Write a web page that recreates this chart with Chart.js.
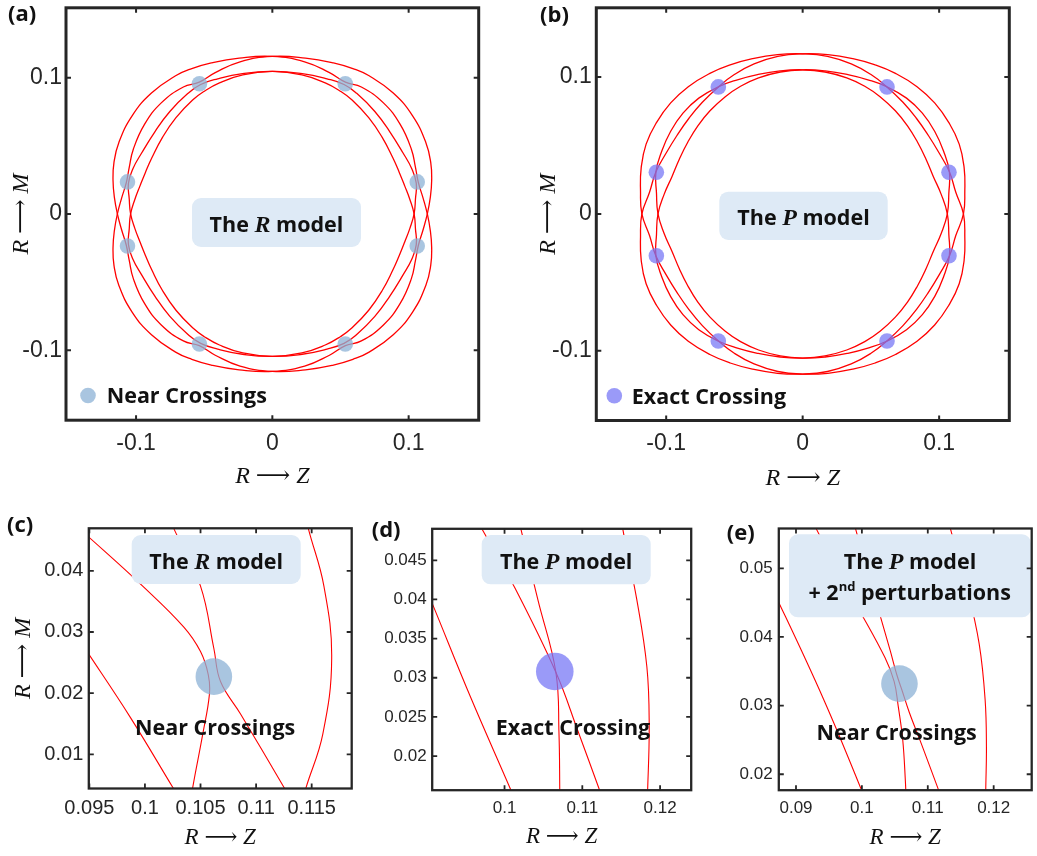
<!DOCTYPE html>
<html>
<head>
<meta charset="utf-8">
<script src="https://cdn.jsdelivr.net/npm/chart.js@4.4.1/dist/chart.umd.min.js"></script>
<style>
  html, body { margin: 0; padding: 0; background: #fff; }
  body { position: relative; width: 1037px; height: 856px; overflow: hidden; }
  canvas { position: absolute; }
</style>
</head>
<body>
<script>
// ---------------------------------------------------------------------------
// Traced branches, first quadrant only (angle 0° -> 90°), as [Z, M] pairs.
// The full closed orbits follow from the mirror symmetry Z -> -Z, M -> -M.
// ---------------------------------------------------------------------------

// R model (panel a)
const rOuter    = [[0.1137,0],[0.1159,0.0122],[0.1169,0.0248],[0.1162,0.0378],[0.1126,0.0525],[0.1029,0.0720],[0.0887,0.0887],[0.0710,0.1014],[0.0591,0.1067],[0.0448,0.1109],[0.0243,0.1144],[0,0.1156]];
const rOuterMid = [[0.1137,0],[0.1106,0.0116],[0.1072,0.0228],[0.1050,0.0341],[0.1020,0.0475],[0.0938,0.0657],[0.0815,0.0815],[0.0653,0.0932],[0.0536,0.0967],[0.0419,0.1037],[0.0237,0.1117],[0,0.1156]];
const rInnerMid = [[0.1040,0],[0.1050,0.0110],[0.1056,0.0225],[0.1023,0.0332],[0.0959,0.0447],[0.0862,0.0603],[0.0752,0.0752],[0.0619,0.0885],[0.0526,0.0950],[0.0401,0.0992],[0.0219,0.1030],[0,0.1046]];
const rInner    = [[0.1040,0],[0.1009,0.0106],[0.0971,0.0206],[0.0932,0.0303],[0.0884,0.0412],[0.0805,0.0564],[0.0707,0.0707],[0.0585,0.0836],[0.0499,0.0901],[0.0388,0.0962],[0.0217,0.1020],[0,0.1046]];

// P model (panel b)
const pOuter    = [[0.1178,0],[0.1188,0.0166],[0.1183,0.0338],[0.1147,0.0510],[0.1070,0.0669],[0.0967,0.0811],[0.0838,0.0930],[0.0680,0.1027],[0.0531,0.1089],[0.0368,0.1134],[0.0184,0.1164],[0,0.1170]];
const pOuterMid = [[0.1178,0],[0.1122,0.0158],[0.1075,0.0308],[0.1000,0.0445],[0.0920,0.0575],[0.0833,0.0699],[0.0735,0.0816],[0.0615,0.0930],[0.0498,0.1020],[0.0356,0.1096],[0.0182,0.1151],[0,0.1170]];
const pInnerMid = [[0.1060,0],[0.1071,0.0151],[0.1075,0.0308],[0.1032,0.0460],[0.0967,0.0604],[0.0877,0.0736],[0.0761,0.0846],[0.0615,0.0930],[0.0478,0.0980],[0.0331,0.1018],[0.0165,0.1045],[0,0.1053]];
const pInner    = [[0.1060,0],[0.1015,0.0143],[0.0957,0.0274],[0.0903,0.0402],[0.0841,0.0526],[0.0768,0.0644],[0.0679,0.0754],[0.0567,0.0857],[0.0455,0.0933],[0.0323,0.0994],[0.0164,0.1037],[0,0.1053]];

// Close-up of the R model near (0.106, 0.023) (panel c)
const zoomRInner    = [[0.0925,0.0330],[0.0949,0.0265],[0.0987,0.0160],[0.1025,0.0046],[0.1032,0.0025]];
const zoomRInnerMid = [[0.0935,0.0478],[0.0949,0.0456],[0.0998,0.0375],[0.1035,0.0308],[0.1050,0.0268],[0.1057,0.0230],[0.1058,0.0198],[0.1052,0.0133],[0.1043,0.0046],[0.1041,0.0020]];
const zoomROuterMid = [[0.1020,0.0495],[0.1026,0.0469],[0.1050,0.0375],[0.1062,0.0273],[0.1068,0.0219],[0.1086,0.0166],[0.1125,0.0046],[0.1133,0.0020]];
const zoomROuter    = [[0.1144,0.0495],[0.1147,0.0469],[0.1161,0.0375],[0.1168,0.0257],[0.1160,0.0133],[0.1145,0.0046],[0.1141,0.0020]];

// Close-up of the P model near (0.106, 0.031) (panel d)
const zoomPInner = [[0.0890,0.0435],[0.0907,0.0395],[0.0956,0.0276],[0.1008,0.0157],[0.1015,0.0140]];
const zoomPDiag  = [[0.0960,0.0510],[0.0971,0.0490],[0.1010,0.0421],[0.1066,0.0307],[0.1094,0.0233],[0.1122,0.0157],[0.1128,0.0140]];
const zoomPVert  = [[0.1017,0.0510],[0.1021,0.0490],[0.1043,0.0399],[0.1066,0.0307],[0.1070,0.0229],[0.1071,0.0157],[0.1071,0.0140]];
const zoomPOuter = [[0.1150,0.0510],[0.1152,0.0490],[0.1170,0.0400],[0.1183,0.0314],[0.1186,0.0240],[0.1184,0.0157],[0.1183,0.0140]];

// Close-up of the P model with second-order perturbations (panel e)
const zoomP2Inner = [[0.0860,0.0475],[0.0874,0.0450],[0.0942,0.0309],[0.0999,0.0178],[0.1003,0.0165]];
const zoomP2A     = [[0.0925,0.0575],[0.0930,0.0559],[0.0990,0.0450],[0.1035,0.0370],[0.1049,0.0335],[0.1055,0.0300],[0.1062,0.0250],[0.1066,0.0190],[0.1067,0.0165]];
const zoomP2B     = [[0.0987,0.0575],[0.0990,0.0559],[0.1022,0.0450],[0.1043,0.0380],[0.1053,0.0345],[0.1061,0.0322],[0.1072,0.0290],[0.1090,0.0245],[0.1116,0.0178],[0.1121,0.0165]];
const zoomP2Outer = [[0.1130,0.0580],[0.1134,0.0559],[0.1160,0.0470],[0.1178,0.0390],[0.1187,0.0309],[0.1189,0.0240],[0.1188,0.0178],[0.1188,0.0165]];

// Crossing markers
const nearCrossR  = [[0.0535,0.0955],[-0.0535,0.0955],[0.1063,0.0235],[-0.1063,0.0235],[0.1063,-0.0235],[-0.1063,-0.0235],[0.0535,-0.0955],[-0.0535,-0.0955]];
const exactCrossP = [[0.0618,0.0928],[-0.0618,0.0928],[0.1072,0.0305],[-0.1072,0.0305],[0.1072,-0.0305],[-0.1072,-0.0305],[0.0618,-0.0928],[-0.0618,-0.0928]];
const zoomRCross  = [[0.1062,0.0227]];
const zoomPCross  = [[0.10646,0.0308]];
const zoomP2Cross = [[0.1057,0.0332]];

// Tick values
const ticksFull = [-0.1, 0, 0.1];
const ticksCX = [0.095, 0.1, 0.105, 0.11, 0.115];
const ticksCY = [0.01, 0.02, 0.03, 0.04];
const ticksDX = [0.1, 0.11, 0.12];
const ticksDY = [0.02, 0.025, 0.03, 0.035, 0.04, 0.045];
const ticksEX = [0.09, 0.1, 0.11, 0.12];
const ticksEY = [0.02, 0.03, 0.04, 0.05];

// Axis titles
const titleZ = 'R \u27F6 Z';
const titleM = 'R \u27F6 M';

// ---------------------------------------------------------------------------
const RED = '#ff0000';
const DOT_R = 'rgba(140,178,214,0.75)';
const DOT_P = 'rgba(120,120,246,0.75)';
const INK = '#262626';
const TICK_FONT = '"Liberation Sans", Arial, sans-serif';
const MATH_FONT = '"Liberation Serif", "DejaVu Serif", serif';
const LABEL_FONT = '"Open Sans", Lato, sans-serif';
const B22 = `bold 21.5px ${LABEL_FONT}`;
const MATHB = `italic bold 24px ${MATH_FONT}`;

// One closed orbit: branch `a` in quadrant I, continued through the axis
// crossings by the mirrored copy of branch `b`, then the point-reflected `a`, ...
function orbit(a, b) {
  const pts = [];
  a.forEach(([z, m]) => pts.push([z, m]));
  b.slice().reverse().slice(1).forEach(([z, m]) => pts.push([-z, m]));
  a.slice(1).forEach(([z, m]) => pts.push([-z, -m]));
  b.slice().reverse().slice(1).forEach(([z, m]) => pts.push([z, -m]));
  // wrap one point on each end so the spline closes smoothly
  const ext = [pts[pts.length - 2], ...pts, pts[1]];
  return ext.map(([x, y]) => ({x, y}));
}
const xy = arr => arr.map(([x, y]) => ({x, y}));

function loopSet(data, width) {
  const n = data.length;
  return {
    data, showLine: true, pointRadius: 0, borderColor: RED, borderWidth: width,
    tension: 0.45, fill: false, order: 1,
    segment: { borderColor: c => (c.p0DataIndex === 0 || c.p1DataIndex === n - 1) ? 'rgba(0,0,0,0)' : undefined }
  };
}
function pathSet(data, width) {
  return { data: xy(data), showLine: true, pointRadius: 0, borderColor: RED, borderWidth: width, tension: 0.4, fill: false, order: 1 };
}
function dotSet(data, r, color) {
  return { data: xy(data), showLine: false, pointRadius: r, pointBackgroundColor: color, pointBorderWidth: 0, order: 0 };
}

// Frame with inward ticks, annotation boxes and labels
const decor = {
  id: 'decor',
  afterDraw(chart, _args, o) {
    const {ctx, chartArea: a, scales: {x, y}} = chart;
    ctx.save();
    ctx.translate(-o.origin[0], -o.origin[1]);
    for (const it of o.items) {
      if (it.box) {
        const [x0, y0, x1, y1] = it.box;
        ctx.fillStyle = '#deeaf6';
        ctx.beginPath(); ctx.roundRect(x0, y0, x1 - x0, y1 - y0, 9); ctx.fill();
      } else if (it.dot) {
        const [cx, cy, r, col] = it.dot;
        ctx.fillStyle = col;
        ctx.beginPath(); ctx.arc(cx, cy, r, 0, Math.PI * 2); ctx.fill();
      } else if (it.text) {
        ctx.fillStyle = '#111';
        ctx.textBaseline = 'alphabetic';
        ctx.textAlign = 'left';
        let w = 0;
        for (const p of it.text) { ctx.font = p[1]; w += ctx.measureText(p[0]).width; }
        let cx = it.align === 'center' ? it.x - w / 2 : it.x;
        for (const p of it.text) {
          ctx.font = p[1];
          ctx.fillText(p[0], cx, it.y - (p[2] || 0));
          cx += ctx.measureText(p[0]).width;
        }
      }
    }
    ctx.restore();

    ctx.save();
    ctx.strokeStyle = INK;
    ctx.lineWidth = o.frame;
    ctx.strokeRect(a.left, a.top, a.right - a.left, a.bottom - a.top);
    ctx.lineWidth = o.tickWidth;
    ctx.beginPath();
    const L = o.tickLen;
    x.ticks.forEach(t => {
      const px = x.getPixelForValue(t.value);
      ctx.moveTo(px, a.bottom); ctx.lineTo(px, a.bottom - L);
      ctx.moveTo(px, a.top); ctx.lineTo(px, a.top + L);
    });
    y.ticks.forEach(t => {
      const py = y.getPixelForValue(t.value);
      ctx.moveTo(a.left, py); ctx.lineTo(a.left + L, py);
      ctx.moveTo(a.right, py); ctx.lineTo(a.right - L, py);
    });
    ctx.stroke();
    ctx.restore();
  }
};

function panel(p) {
  const cv = document.createElement('canvas');
  cv.width = p.w; cv.height = p.h;
  cv.style.left = p.left + 'px'; cv.style.top = p.top + 'px';
  cv.style.width = p.w + 'px'; cv.style.height = p.h + 'px';
  document.body.appendChild(cv);
  const yW = p.area[0] - p.left, padTop = p.area[1] - p.top;
  const padRight = p.left + p.w - p.area[2], xH = p.top + p.h - p.area[3];
  const titleFont = size => ({family: MATH_FONT, size, style: 'italic', weight: 'normal'});
  new Chart(cv, {
    type: 'scatter',
    data: { datasets: p.datasets },
    options: {
      responsive: false, animation: false, devicePixelRatio: 1, events: [],
      layout: { padding: { top: padTop, right: padRight, bottom: 0, left: 0 } },
      elements: { line: { capBezierPoints: false } },
      plugins: { legend: { display: false }, tooltip: { enabled: false }, decor: p.decor },
      scales: {
        x: {
          type: 'linear', position: 'bottom', min: p.xr[0], max: p.xr[1],
          afterBuildTicks: s => { s.ticks = p.xt.map(v => ({value: v})); },
          afterFit: s => { s.height = xH; s.paddingLeft = 0; s.paddingRight = 0; },
          grid: { display: false, drawTicks: false }, border: { display: false },
          ticks: { padding: p.xPad, color: INK, font: {family: TICK_FONT, size: p.tf}, maxRotation: 0, autoSkip: false, callback: v => String(v) },
          title: { display: true, text: titleZ, color: '#111', font: titleFont(p.xtSize), padding: {top: 0, bottom: p.xtPad} }
        },
        y: {
          type: 'linear', position: 'left', min: p.yr[0], max: p.yr[1],
          afterBuildTicks: s => { s.ticks = p.yt.map(v => ({value: v})); },
          afterFit: s => { s.width = yW; s.paddingTop = 0; s.paddingBottom = 0; },
          grid: { display: false, drawTicks: false }, border: { display: false },
          ticks: { padding: p.yPad, color: INK, font: {family: TICK_FONT, size: p.tf}, autoSkip: false, callback: v => String(v) },
          title: p.ytSize ? { display: true, text: titleM, color: '#111', font: titleFont(p.ytSize), padding: {top: p.ytPad, bottom: 0} } : { display: false }
        }
      }
    },
    plugins: [decor]
  });
}

// (a) R model
panel({
  left: 0, top: 0, w: 500, h: 500, area: [66, 6.5, 478.7, 420.2],
  xr: [-0.1514, 0.1514], yr: [-0.1514, 0.1513], xt: ticksFull, yt: ticksFull,
  tf: 23, xPad: 9.3, yPad: 4, xtSize: 24, xtPad: 8.9, ytSize: 24, ytPad: 7.3,
  datasets: [
    dotSet(nearCrossR, 7.8, DOT_R),
    loopSet(orbit(rOuter, rOuterMid), 1.3), loopSet(orbit(rOuterMid, rOuter), 1.3),
    loopSet(orbit(rInnerMid, rInner), 1.3), loopSet(orbit(rInner, rInnerMid), 1.3)
  ],
  decor: { origin: [0, 0], frame: 3, tickWidth: 2, tickLen: 5, items: [
    {text: [['(a)', `bold 22px ${LABEL_FONT}`]], x: 8, y: 21},
    {box: [192, 198, 361, 247]},
    {text: [['The ', B22], ['R', MATHB], [' model', B22]], x: 276.5, y: 231.5, align: 'center'},
    {dot: [88, 395.5, 7.8, DOT_R]},
    {text: [['Near Crossings', B22]], x: 106.7, y: 403.3}
  ]}
});

// (b) P model
panel({
  left: 520, top: 0, w: 517, h: 500, area: [596.3, 6.5, 1009.3, 420.5],
  xr: [-0.1512, 0.1514], yr: [-0.1509, 0.1506], xt: ticksFull, yt: ticksFull,
  tf: 23, xPad: 9, yPad: 4.6, xtSize: 24, xtPad: 7.3, ytSize: 24, ytPad: 13.9,
  datasets: [
    dotSet(exactCrossP, 7.8, DOT_P),
    loopSet(orbit(pOuter, pOuterMid), 1.3), loopSet(orbit(pOuterMid, pOuter), 1.3),
    loopSet(orbit(pInnerMid, pInner), 1.3), loopSet(orbit(pInner, pInnerMid), 1.3)
  ],
  decor: { origin: [520, 0], frame: 3, tickWidth: 2, tickLen: 5, items: [
    {text: [['(b)', `bold 22px ${LABEL_FONT}`]], x: 540, y: 22},
    {box: [719.3, 191.7, 887.7, 240]},
    {text: [['The ', B22], ['P', MATHB], [' model', B22]], x: 803.5, y: 225, align: 'center'},
    {dot: [614.3, 395.7, 7.8, DOT_P]},
    {text: [['Exact Crossing', B22]], x: 631.7, y: 404}
  ]}
});

// (c) R model close-up
panel({
  left: 0, top: 510, w: 370, h: 346, area: [88.8, 525.2, 351.8, 788.5],
  xr: [0.09495, 0.1186], yr: [0.00441, 0.04695], xt: ticksCX, yt: ticksCY,
  tf: 20, xPad: 7.8, yPad: 5.5, xtSize: 23, xtPad: 4.2, ytSize: 24, ytPad: 8.9,
  datasets: [
    dotSet(zoomRCross, 18.3, DOT_R),
    pathSet(zoomRInner, 1.1), pathSet(zoomRInnerMid, 1.1), pathSet(zoomROuterMid, 1.1), pathSet(zoomROuter, 1.1)
  ],
  decor: { origin: [0, 510], frame: 2.3, tickWidth: 1.8, tickLen: 5, items: [
    {text: [['(c)', `bold 22px ${LABEL_FONT}`]], x: 7, y: 532},
    {box: [131.7, 535, 300.7, 584]},
    {text: [['The ', B22], ['R', MATHB], [' model', B22]], x: 216.2, y: 569, align: 'center'},
    {text: [['Near Crossings', B22]], x: 215.2, y: 735, align: 'center'}
  ]}
});

// (d) P model close-up
panel({
  left: 370, top: 510, w: 340, h: 346, area: [432.2, 528.5, 695.2, 790.2],
  xr: [0.0907, 0.124], yr: [0.01564, 0.04902], xt: ticksDX, yt: ticksDY,
  tf: 17, xPad: 7.6, yPad: 5.5, xtSize: 23, xtPad: 5.5, ytSize: 0,
  datasets: [
    dotSet(zoomPCross, 18.8, DOT_P),
    pathSet(zoomPInner, 1.1), pathSet(zoomPDiag, 1.1), pathSet(zoomPVert, 1.1), pathSet(zoomPOuter, 1.1)
  ],
  decor: { origin: [370, 510], frame: 2.3, tickWidth: 1.8, tickLen: 5, items: [
    {text: [['(d)', `bold 22px ${LABEL_FONT}`]], x: 371.7, y: 536.7},
    {box: [481.7, 535, 650.7, 584.3]},
    {text: [['The ', B22], ['P', MATHB], [' model', B22]], x: 566.2, y: 568.7, align: 'center'},
    {text: [['Exact Crossing', B22]], x: 573, y: 735, align: 'center'}
  ]}
});

// (e) P model + second-order perturbations close-up
panel({
  left: 710, top: 510, w: 340, h: 346, area: [778.8, 528.5, 1041.8, 790.2],
  xr: [0.08739, 0.12577], yr: [0.01768, 0.0558], xt: ticksEX, yt: ticksEY,
  tf: 17, xPad: 7.9, yPad: 6.1, xtSize: 23, xtPad: 4.2, ytSize: 0,
  datasets: [
    dotSet(zoomP2Cross, 18.3, DOT_R),
    pathSet(zoomP2Inner, 1.1), pathSet(zoomP2A, 1.1), pathSet(zoomP2B, 1.1), pathSet(zoomP2Outer, 1.1)
  ],
  decor: { origin: [710, 510], frame: 2.3, tickWidth: 1.8, tickLen: 5, items: [
    {text: [['(e)', `bold 22px ${LABEL_FONT}`]], x: 726.7, y: 540},
    {box: [789, 534.3, 1031, 617.3]},
    {text: [['The ', B22], ['P', MATHB], [' model', B22]], x: 910, y: 569, align: 'center'},
    {text: [['+ 2', B22], ['nd', `bold 13px ${LABEL_FONT}`, 9], [' perturbations', B22]], x: 909.7, y: 600, align: 'center'},
    {text: [['Near Crossings', B22]], x: 896.7, y: 740, align: 'center'}
  ]}
});
</script>
</body>
</html>
